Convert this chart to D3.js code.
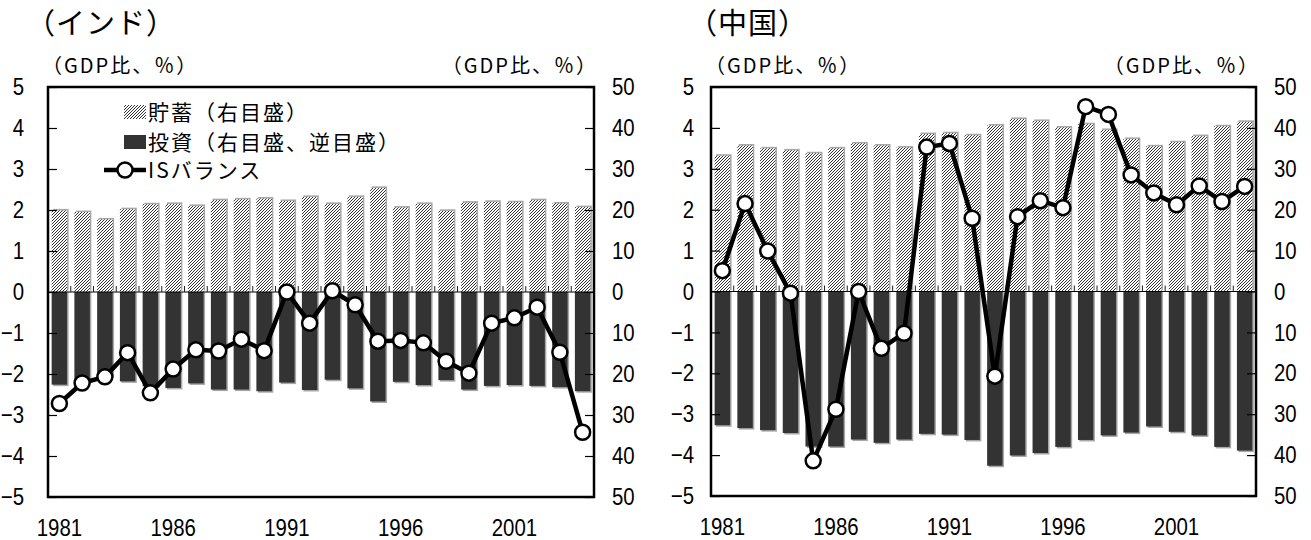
<!DOCTYPE html>
<html><head><meta charset="utf-8">
<script src="https://cdn.jsdelivr.net/npm/d3@7"></script>
<style>
body{margin:0;background:#fff;}
svg text{font-family:"Liberation Sans",Arial,sans-serif;}
.jp{font-family:"Noto Sans CJK JP","Noto Sans CJK SC",sans-serif;}
</style></head>
<body><svg id="c" width="1311" height="540"></svg>
<script>
const years = d3.range(1981, 2005);
const yearLabels = [1981, 1986, 1991, 1996, 2001];
const leftTicks = [5,4,3,2,1,0,-1,-2,-3,-4,-5];
const rightTicks = [50,40,30,20,10,0,-10,-20,-30,-40,-50];

// India (% of GDP)
const indiaSaving = [19.9,19.5,17.7,20.2,21.4,21.5,21.0,22.4,22.6,22.8,22.2,23.2,21.5,23.2,25.4,20.6,21.5,19.8,21.8,22.0,21.9,22.4,21.6,20.7];
const indiaInvest = [22.6,21.5,20.5,21.8,23.0,23.4,22.3,23.8,23.8,24.2,22.1,23.9,21.4,23.5,26.7,21.9,22.7,21.5,23.8,22.9,22.7,22.9,23.2,24.2];
const indiaIS = [-2.72,-2.22,-2.07,-1.48,-2.46,-1.88,-1.41,-1.44,-1.15,-1.43,0.0,-0.76,0.03,-0.31,-1.2,-1.18,-1.24,-1.69,-1.98,-0.76,-0.63,-0.37,-1.47,-3.42];

// China (% of GDP)
const chinaSaving = [33.2,35.7,35.0,34.5,33.8,35.0,36.2,35.7,35.2,38.5,38.7,38.2,40.6,42.2,41.7,40.1,40.9,39.5,37.3,35.5,36.5,38.0,40.4,41.5];
const chinaInvest = [32.7,33.4,33.9,34.6,37.9,37.9,36.2,37.0,36.2,34.8,35.0,36.3,42.6,40.1,39.5,38.0,36.3,35.2,34.5,33.0,34.3,35.2,38.0,38.9];
const chinaIS = [0.51,2.15,0.99,-0.04,-4.14,-2.88,0.0,-1.39,-1.02,3.53,3.62,1.79,-2.07,1.83,2.22,2.05,4.52,4.33,2.85,2.41,2.12,2.58,2.2,2.57];

const titles = ["（インド）", "（中国）"];
const unitLabel = "（GDP比、％）";
const legendLabels = ["貯蓄（右目盛）", "投資（右目盛、逆目盛）", "ISバランス"];

const svg = d3.select("#c");
const defs = svg.append("defs");
const pat = defs.append("pattern").attr("id","hatch").attr("patternUnits","userSpaceOnUse")
  .attr("width",3).attr("height",3);
pat.append("rect").attr("width",3).attr("height",3).attr("fill","#fff");
pat.append("path").attr("d","M-1,1 l2,-2 M0,3 l3,-3 M2,4 l2,-2").attr("stroke","#333").attr("stroke-width",1);

const SX = 0.85; // horizontal condensing of numeric labels
const FS = 24;

function panel(cfg){
  const {L,R,T,B,saving,invest,is,title,titleX,legend,labOff} = cfg;
  const g = svg.append("g");
  const x = d3.scaleBand().domain(years).range([L,R]).paddingInner(0.32).paddingOuter(0.16);
  const y = d3.scaleLinear().domain([-5,5]).range([B,T]);
  const yR = d3.scaleLinear().domain([-50,50]).range([B,T]);

  g.append("text").attr("class","jp").attr("x",titleX).attr("y",34).attr("font-size",29).attr("letter-spacing",1).text(title);
  g.append("text").attr("class","jp").attr("x",L-6).attr("y",73).attr("font-size",20).attr("letter-spacing",2).text(unitLabel);
  g.append("text").attr("class","jp").attr("x",R+4).attr("y",73).attr("font-size",20).attr("letter-spacing",2).attr("text-anchor","end").text(unitLabel);

  // shadows
  g.append("g").selectAll("rect").data(years).join("rect")
    .attr("x",d=>x(d)+1.5).attr("width",x.bandwidth())
    .attr("y",(d,i)=>yR(saving[i])-1.5).attr("height",(d,i)=>yR(0)-yR(saving[i]))
    .attr("fill","#a8a8a8");
  g.append("g").selectAll("rect").data(years).join("rect")
    .attr("x",d=>x(d)+1.5).attr("width",x.bandwidth())
    .attr("y",yR(0)).attr("height",(d,i)=>yR(-invest[i])-yR(0)+1.5)
    .attr("fill","#a8a8a8");
  // saving bars
  g.append("g").selectAll("rect").data(years).join("rect")
    .attr("x",d=>x(d)).attr("width",x.bandwidth())
    .attr("y",(d,i)=>yR(saving[i])).attr("height",(d,i)=>yR(0)-yR(saving[i]))
    .attr("fill","url(#hatch)");
  // investment bars
  g.append("g").selectAll("rect").data(years).join("rect")
    .attr("x",d=>x(d)).attr("width",x.bandwidth())
    .attr("y",yR(0)).attr("height",(d,i)=>yR(-invest[i])-yR(0))
    .attr("fill","#333");

  // zero line + category ticks
  g.append("line").attr("x1",L).attr("x2",R).attr("y1",y(0)).attr("y2",y(0)).attr("stroke","#000").attr("stroke-width",1.2);
  g.append("g").selectAll("line").data(years.slice(1)).join("line")
    .attr("x1",d=>x(d)-x.step()*x.paddingInner()/2).attr("x2",d=>x(d)-x.step()*x.paddingInner()/2)
    .attr("y1",y(0)).attr("y2",y(0)-6).attr("stroke","#222").attr("stroke-width",1);

  // IS line
  const line = d3.line().x((d,i)=>x(years[i])+x.bandwidth()/2).y(d=>y(d));
  g.append("path").datum(is).attr("d",line).attr("fill","none").attr("stroke","#000").attr("stroke-width",4.5).attr("stroke-linejoin","round");
  g.append("g").selectAll("circle").data(is).join("circle")
    .attr("cx",(d,i)=>x(years[i])+x.bandwidth()/2).attr("cy",d=>y(d)).attr("r",7.5)
    .attr("fill","#fff").attr("stroke","#000").attr("stroke-width",2.5);

  // frame
  g.append("rect").attr("x",L).attr("y",T).attr("width",R-L).attr("height",B-T)
    .attr("fill","none").attr("stroke","#000").attr("stroke-width",2.5);

  // axes
  const la = g.append("g").attr("transform",`translate(${L},0)`)
    .call(d3.axisRight(y).tickValues(leftTicks).tickSize(9).tickFormat(d3.format("d")));
  la.select(".domain").remove();
  la.selectAll("line").attr("stroke-width",1.2);
  la.selectAll("text").attr("x",-labOff/SX).attr("transform",`scale(${SX},1)`).attr("text-anchor","end").attr("font-size",FS).attr("fill","#000");
  const ra = g.append("g").attr("transform",`translate(${R},0)`)
    .call(d3.axisLeft(yR).tickValues(rightTicks).tickSize(9).tickFormat(d=>Math.abs(d)));
  ra.select(".domain").remove();
  ra.selectAll("line").attr("stroke-width",1.2);
  ra.selectAll("text").attr("x",18/SX).attr("transform",`scale(${SX},1)`).attr("text-anchor","start").attr("font-size",FS).attr("fill","#000");
  const xa = g.append("g").attr("transform",`translate(0,${B})`)
    .call(d3.axisBottom(x).tickValues(yearLabels).tickSize(0).tickPadding(22));
  xa.select(".domain").remove();
  xa.selectAll("text").attr("transform",`scale(${SX},1)`).attr("font-size",FS).attr("fill","#000");

  if(legend){
    const lg = g.append("g");
    const tx = 148;
    const rows = [112,142,170];
    lg.append("rect").attr("x",tx-24).attr("y",rows[0]-7).attr("width",22).attr("height",14).attr("fill","url(#hatch)");
    lg.append("rect").attr("x",tx-24).attr("y",rows[1]-7).attr("width",22).attr("height",14).attr("fill","#333");
    lg.append("line").attr("x1",tx-44).attr("x2",tx-2).attr("y1",rows[2]).attr("y2",rows[2]).attr("stroke","#000").attr("stroke-width",4.5);
    lg.append("circle").attr("cx",tx-23).attr("cy",rows[2]).attr("r",7.5).attr("fill","#fff").attr("stroke","#000").attr("stroke-width",2.5);
    legendLabels.forEach((t,i)=>{
      lg.append("text").attr("class","jp").attr("x",tx).attr("y",rows[i]).attr("dy","0.36em").attr("font-size",21).attr("letter-spacing",2).text(t);
    });
  }
}

panel({L:48,R:594,T:87,B:497,saving:indiaSaving,invest:indiaInvest,is:indiaIS,title:titles[0],titleX:26,legend:true,labOff:24});
panel({L:711,R:1256,T:87,B:496,saving:chinaSaving,invest:chinaInvest,is:chinaIS,title:titles[1],titleX:688,legend:false,labOff:17});
</script></body></html>
